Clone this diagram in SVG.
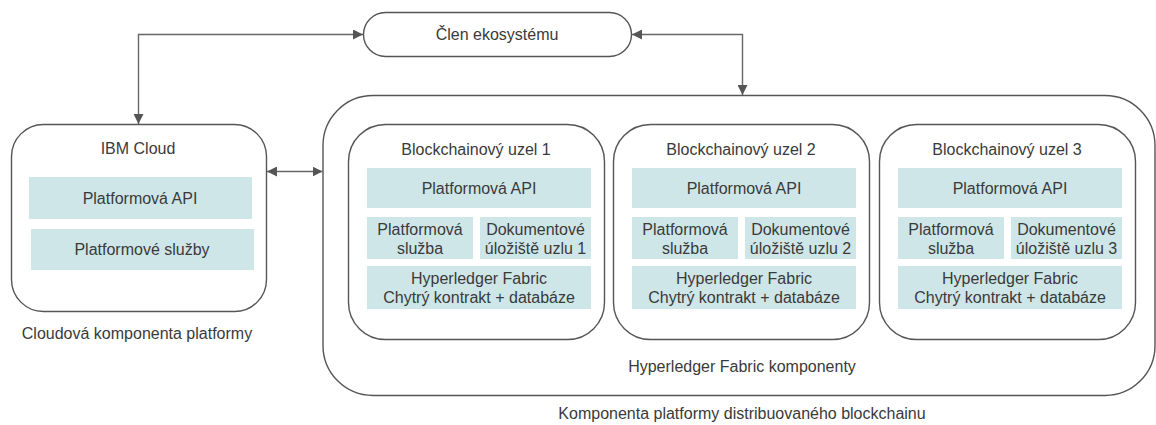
<svg xmlns="http://www.w3.org/2000/svg" width="1156" height="425" viewBox="0 0 1156 425">
<style>
text{font-family:"Liberation Sans",Arial,sans-serif;font-size:16px;fill:#3a3a3a;text-anchor:middle;dominant-baseline:central}
.box{fill:#fff;stroke:#555;stroke-width:1.4}
.cell{fill:#cfe6e8}
.conn{fill:none;stroke:#666;stroke-width:1.4}
</style>
<defs>
<marker id="arr" viewBox="0 0 10 10" refX="10" refY="5" markerWidth="10" markerHeight="10" markerUnits="userSpaceOnUse" orient="auto-start-reverse">
<path d="M0,0 L10,5 L0,10 z" fill="#555"/>
</marker>
</defs>
<rect width="1156" height="425" fill="#fff"/>

<g id="outer">
<rect class="box" x="323" y="95.5" width="832" height="300" rx="50"/>
<text x="742" y="366">Hyperledger Fabric komponenty</text>
<text x="742" y="413">Komponenta platformy distribuovaného blockchainu</text>
</g>

<g id="clen">
<rect class="box" x="363.5" y="12.5" width="268" height="44" rx="22"/>
<text x="497" y="34">Člen ekosystému</text>
</g>

<g id="ibmcloud">
<rect class="box" x="11.5" y="124.5" width="255" height="187" rx="32"/>
<text x="138" y="148">IBM Cloud</text>
<rect class="cell" x="29" y="177" width="223" height="42"/>
<text x="140" y="198">Platformová API</text>
<rect class="cell" x="31" y="229" width="223" height="41"/>
<text x="142" y="249.5">Platformové služby</text>
<text x="137" y="333">Cloudová komponenta platformy</text>
</g>

<g id="uzel1">
<rect class="box" x="348.5" y="124.5" width="256" height="215" rx="37"/>
<text x="476" y="149">Blockchainový uzel 1</text>
<rect class="cell" x="367" y="168" width="224" height="40"/>
<text x="479" y="188">Platformová API</text>
<rect class="cell" x="367" y="217" width="106" height="42"/>
<text x="420" y="229">Platformová</text>
<text x="420" y="248">služba</text>
<rect class="cell" x="480" y="217" width="111" height="42"/>
<text x="535.5" y="229">Dokumentové</text>
<text x="535.5" y="248">úložiště uzlu 1</text>
<rect class="cell" x="367" y="266" width="224" height="43"/>
<text x="479" y="278">Hyperledger Fabric</text>
<text x="479" y="297">Chytrý kontrakt + databáze</text>
</g>

<g id="uzel2">
<rect class="box" x="613.5" y="124.5" width="256" height="215" rx="37"/>
<text x="741" y="149">Blockchainový uzel 2</text>
<rect class="cell" x="632" y="168" width="224" height="40"/>
<text x="744" y="188">Platformová API</text>
<rect class="cell" x="632" y="217" width="106" height="42"/>
<text x="685" y="229">Platformová</text>
<text x="685" y="248">služba</text>
<rect class="cell" x="745" y="217" width="111" height="42"/>
<text x="800.5" y="229">Dokumentové</text>
<text x="800.5" y="248">úložiště uzlu 2</text>
<rect class="cell" x="632" y="266" width="224" height="43"/>
<text x="744" y="278">Hyperledger Fabric</text>
<text x="744" y="297">Chytrý kontrakt + databáze</text>
</g>

<g id="uzel3">
<rect class="box" x="879.5" y="124.5" width="256" height="215" rx="37"/>
<text x="1007" y="149">Blockchainový uzel 3</text>
<rect class="cell" x="898" y="168" width="224" height="40"/>
<text x="1010" y="188">Platformová API</text>
<rect class="cell" x="898" y="217" width="106" height="42"/>
<text x="951" y="229">Platformová</text>
<text x="951" y="248">služba</text>
<rect class="cell" x="1011" y="217" width="111" height="42"/>
<text x="1066.5" y="229">Dokumentové</text>
<text x="1066.5" y="248">úložiště uzlu 3</text>
<rect class="cell" x="898" y="266" width="224" height="43"/>
<text x="1010" y="278">Hyperledger Fabric</text>
<text x="1010" y="297">Chytrý kontrakt + databáze</text>
</g>

<g id="connectors">
<path class="conn" d="M138.5,124 L138.5,34.5 L363,34.5" marker-start="url(#arr)" marker-end="url(#arr)"/>
<path class="conn" d="M632,34.5 L742.5,34.5 L742.5,95" marker-start="url(#arr)" marker-end="url(#arr)"/>
<path class="conn" d="M267,171.5 L322.5,171.5" marker-start="url(#arr)" marker-end="url(#arr)"/>
</g>
</svg>
